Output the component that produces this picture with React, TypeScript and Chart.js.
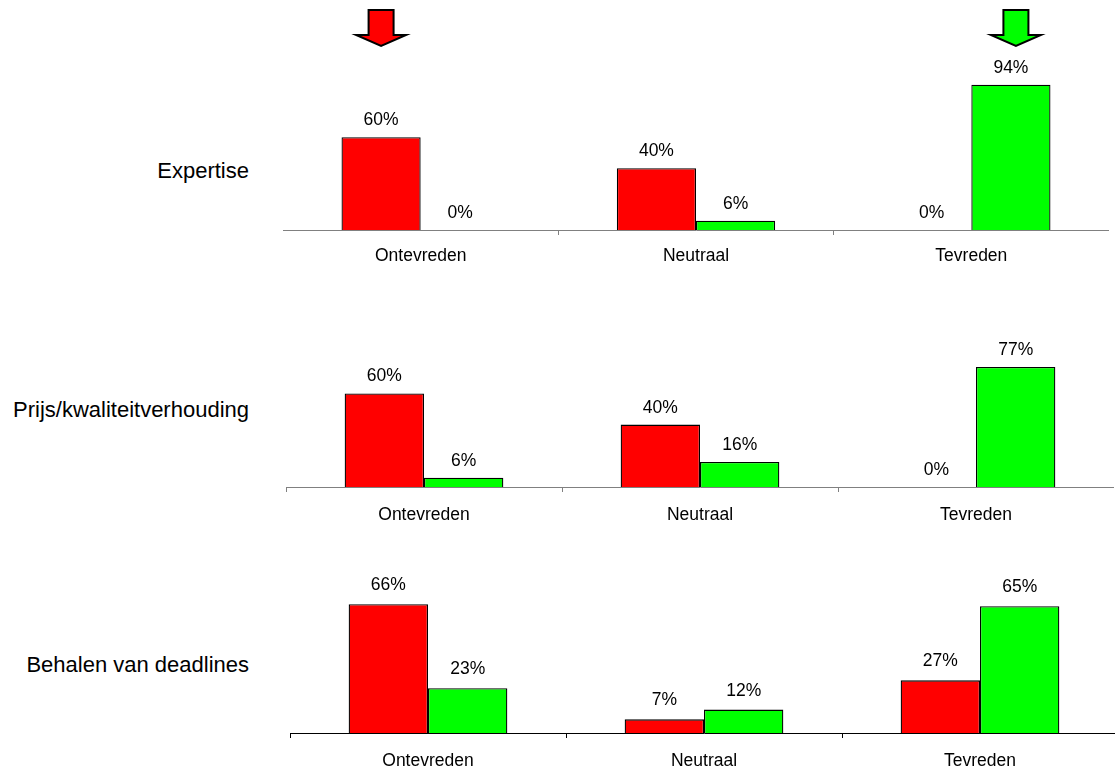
import React, { useEffect, useRef } from "react";
import { Chart, registerables } from "chart.js";

Chart.register(...registerables);

const categories = ["Ontevreden", "Neutraal", "Tevreden"];
const rowLabels = ["Expertise", "Prijs/kwaliteitverhouding", "Behalen van deadlines"];
const seriesNames = ["Reeks 1", "Reeks 2"];

const expertiseRed = [60, 40, 0];
const expertiseGreen = [0, 6, 94];
const prijsRed = [60, 40, 0];
const prijsGreen = [6, 16, 77];
const deadlinesRed = [66, 7, 27];
const deadlinesGreen = [23, 12, 65];

const FONT = "'Liberation Sans', Arial, sans-serif";
const RED = "#FF0000";
const GREEN = "#00FF00";

type PanelCfg = {
  red: number[];
  green: number[];
  left: number;
  top: number;
  width: number;
  height: number;
  padTop: number;
  axisH: number;
  yMax: number;
  axisColor: string;
  labelPad: number;
  labelGap: number;
  arrows?: boolean;
};

const panels: PanelCfg[] = [
  { red: expertiseRed, green: expertiseGreen, left: 283, top: 0, width: 826, height: 270, padTop: 75.5, axisH: 40, yMax: 100, axisColor: "#808080", labelPad: 11, labelGap: 12, arrows: true },
  { red: prijsRed, green: prijsGreen, left: 286, top: 280, width: 828, height: 247, padTop: 51, axisH: 40, yMax: 100, axisColor: "#808080", labelPad: 13, labelGap: 12 },
  { red: deadlinesRed, green: deadlinesGreen, left: 290, top: 540, width: 828, height: 229, padTop: 56.5, axisH: 36, yMax: 70, axisColor: "#000000", labelPad: 13, labelGap: 14 },
];

const labelTops = [160, 399, 654];

const dataLabelPlugin = {
  id: "dataLabels",
  afterDatasetsDraw(chart: any) {
    const ctx = chart.ctx;
    const gap = chart.options.plugins.dataLabels?.gap ?? 12;
    ctx.save();
    ctx.font = `17.5px ${FONT}`;
    ctx.fillStyle = "#000";
    ctx.textAlign = "center";
    ctx.textBaseline = "alphabetic";
    chart.data.datasets.forEach((ds: any, di: number) => {
      const meta = chart.getDatasetMeta(di);
      meta.data.forEach((el: any, i: number) => {
        ctx.fillText(`${ds.data[i]}%`, el.x, el.y - gap);
      });
    });
    ctx.restore();
  },
};

function drawArrow(ctx: CanvasRenderingContext2D, cx: number, fill: string) {
  const top = 10;
  const shaftHalf = 12.5;
  const headY = 35;
  const headHalf = 25;
  const tip = 46;
  ctx.beginPath();
  ctx.moveTo(cx - shaftHalf, top);
  ctx.lineTo(cx + shaftHalf, top);
  ctx.lineTo(cx + shaftHalf, headY);
  ctx.lineTo(cx + headHalf, headY);
  ctx.lineTo(cx, tip);
  ctx.lineTo(cx - headHalf, headY);
  ctx.lineTo(cx - shaftHalf, headY);
  ctx.closePath();
  ctx.fillStyle = fill;
  ctx.fill();
  ctx.lineWidth = 2;
  ctx.strokeStyle = "#000";
  ctx.lineJoin = "miter";
  ctx.stroke();
}

const arrowPlugin = {
  id: "arrows",
  afterDraw(chart: any) {
    if (!chart.options.plugins.arrows || !chart.options.plugins.arrows.show) return;
    const ctx = chart.ctx;
    const redEl = chart.getDatasetMeta(0).data[0];
    const greenEl = chart.getDatasetMeta(1).data[2];
    ctx.save();
    drawArrow(ctx, redEl.x, RED);
    drawArrow(ctx, greenEl.x + 5, GREEN);
    ctx.restore();
  },
};

function Panel({ cfg }: { cfg: PanelCfg }) {
  const ref = useRef<HTMLCanvasElement | null>(null);
  useEffect(() => {
    if (!ref.current) return;
    const chart = new Chart(ref.current, {
      type: "bar",
      data: {
        labels: categories,
        datasets: [
          { label: seriesNames[0], data: cfg.red, backgroundColor: RED, borderColor: "#000", borderWidth: 1.3, categoryPercentage: 0.575, barPercentage: 1 },
          { label: seriesNames[1], data: cfg.green, backgroundColor: GREEN, borderColor: "#000", borderWidth: 1.3, categoryPercentage: 0.575, barPercentage: 1 },
        ],
      },
      options: {
        responsive: false,
        animation: false,
        layout: { padding: { top: cfg.padTop, left: 0, right: 0, bottom: 0 } },
        plugins: {
          legend: { display: false },
          tooltip: { enabled: false },
          title: { display: false },
          arrows: { show: !!cfg.arrows },
          dataLabels: { gap: cfg.labelGap },
        } as any,
        scales: {
          y: { display: false, min: 0, max: cfg.yMax },
          x: {
            offset: true,
            afterFit: (scale: any) => {
              scale.height = cfg.axisH;
            },
            grid: {
              display: true,
              offset: true,
              drawOnChartArea: false,
              drawTicks: true,
              tickLength: 5,
              color: cfg.axisColor,
              lineWidth: 1,
            },
            border: { display: true, color: cfg.axisColor, width: 1 },
            ticks: {
              padding: cfg.labelPad,
              color: "#000",
              font: { family: FONT, size: 17.5 },
              maxRotation: 0,
              autoSkip: false,
            },
          },
        },
      },
      plugins: [dataLabelPlugin, arrowPlugin],
    });
    return () => chart.destroy();
  }, [cfg]);
  return (
    <canvas
      ref={ref}
      width={cfg.width}
      height={cfg.height}
      style={{ position: "absolute", left: cfg.left, top: cfg.top, width: cfg.width, height: cfg.height }}
    />
  );
}

export default function App() {
  return (
    <div
      style={{
        position: "fixed",
        left: 0,
        top: 0,
        width: 1115,
        height: 769,
        overflow: "hidden",
        background: "#fff",
      }}
    >
      {rowLabels.map((t, i) => (
        <div
          key={t}
          style={{
            position: "absolute",
            right: 1115 - 249,
            top: labelTops[i],
            fontFamily: FONT,
            fontSize: 22,
            lineHeight: "22px",
            whiteSpace: "nowrap",
            color: "#000",
          }}
        >
          {t}
        </div>
      ))}
      {panels.map((p, i) => (
        <Panel key={i} cfg={p} />
      ))}
    </div>
  );
}
